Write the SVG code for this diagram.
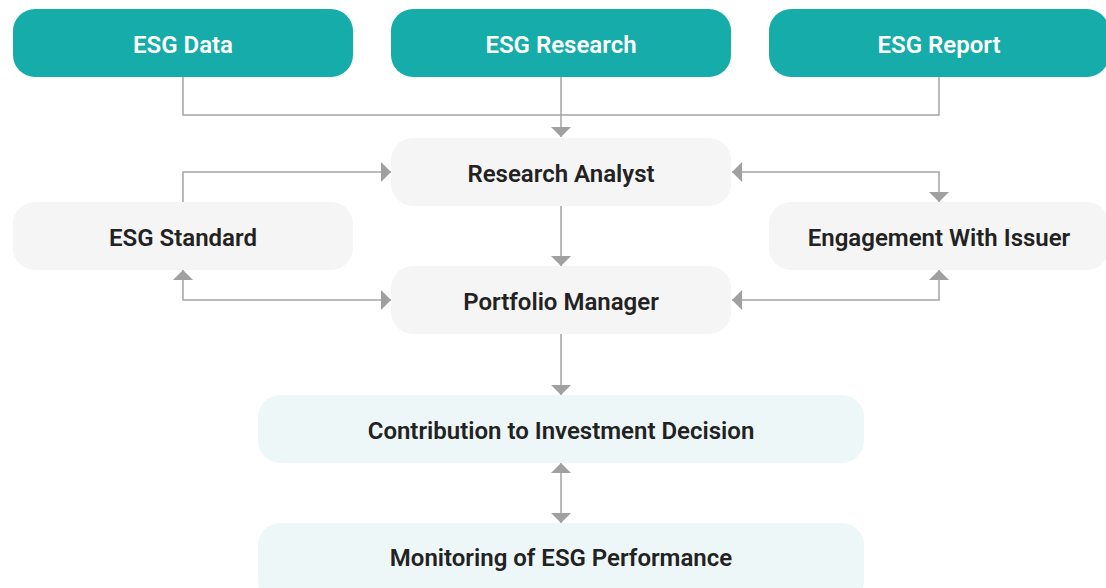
<svg xmlns="http://www.w3.org/2000/svg" width="1106" height="588" viewBox="0 0 1106 588">
<style>
.teal{fill:#15aca9}
.gray{fill:#f5f5f5}
.light{fill:#eef7f8}
.tw{font-family:Roboto,"Liberation Sans",sans-serif;font-weight:600;font-size:24px;fill:#ffffff;text-anchor:middle;dominant-baseline:central}
.td{font-family:Roboto,"Liberation Sans",sans-serif;font-weight:600;font-size:24px;fill:#222222;text-anchor:middle;dominant-baseline:central}
.c{fill:none;stroke:#a5a5a5;stroke-width:1.5}
</style>
<defs>
<marker id="ah" viewBox="0 0 10 20" refX="10" refY="10" markerWidth="10" markerHeight="20" markerUnits="userSpaceOnUse" orient="auto-start-reverse">
<path d="M0,0 L10,10 L0,20 z" fill="#a0a0a0"/>
</marker>
</defs>
<rect width="1106" height="588" fill="#ffffff"/>
<g id="connectors">
<path class="c" d="M183,77 V115 H939 V77"/>
<path class="c" d="M561,77 V137" marker-end="url(#ah)"/>
<path class="c" d="M183,202 V172 H391" marker-end="url(#ah)"/>
<path class="c" d="M732,172 H939 V202" marker-start="url(#ah)" marker-end="url(#ah)"/>
<path class="c" d="M561,206 V266" marker-end="url(#ah)"/>
<path class="c" d="M183,270 V300 H391" marker-start="url(#ah)" marker-end="url(#ah)"/>
<path class="c" d="M939,270 V300 H732" marker-start="url(#ah)" marker-end="url(#ah)"/>
<path class="c" d="M561,334 V395" marker-end="url(#ah)"/>
<path class="c" d="M561,463 V523" marker-start="url(#ah)" marker-end="url(#ah)"/>
</g>
<g id="esg-data"><rect class="teal" x="13" y="9" width="340" height="68" rx="22"/><text class="tw" x="183" y="45">ESG Data</text></g>
<g id="esg-research"><rect class="teal" x="391" y="9" width="340" height="68" rx="22"/><text class="tw" x="561" y="45">ESG Research</text></g>
<g id="esg-report"><rect class="teal" x="769" y="9" width="340" height="68" rx="22"/><text class="tw" x="939" y="45">ESG Report</text></g>
<g id="research-analyst"><rect class="gray" x="391" y="138" width="340" height="68" rx="22"/><text class="td" x="561" y="174">Research Analyst</text></g>
<g id="esg-standard"><rect class="gray" x="13" y="202" width="340" height="68" rx="22"/><text class="td" x="183" y="238">ESG Standard</text></g>
<g id="engagement"><rect class="gray" x="769" y="202" width="340" height="68" rx="22"/><text class="td" x="939" y="238">Engagement With Issuer</text></g>
<g id="portfolio-manager"><rect class="gray" x="391" y="266" width="340" height="68" rx="22"/><text class="td" x="561" y="302">Portfolio Manager</text></g>
<g id="contribution"><rect class="light" x="258" y="395" width="606" height="68" rx="22"/><text class="td" x="561" y="431">Contribution to Investment Decision</text></g>
<g id="monitoring"><rect class="light" x="258" y="523" width="606" height="80" rx="22"/><text class="td" x="561" y="558">Monitoring of ESG Performance</text></g>
</svg>
